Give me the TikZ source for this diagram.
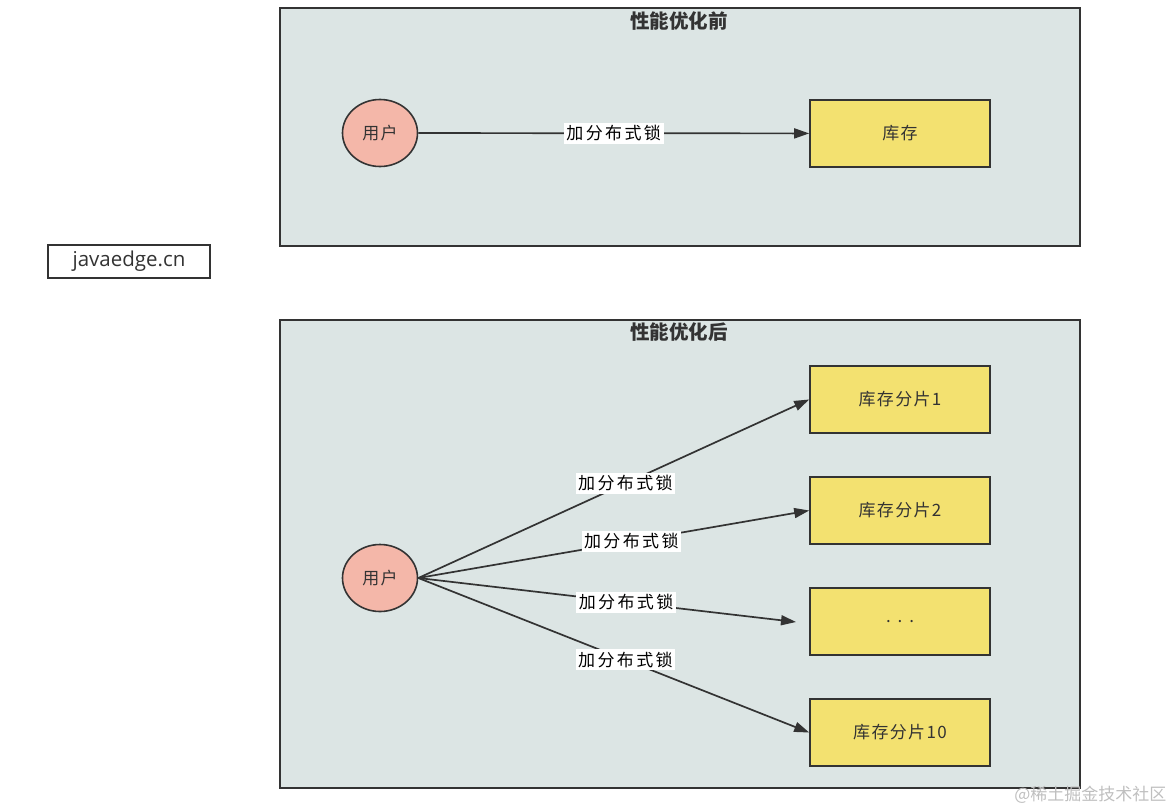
\documentclass[tikz,border=0pt]{standalone}
\usepackage{fontspec}
\setmainfont{Noto Sans CJK SC}
\newfontfamily\cjk{Noto Sans CJK SC}
\newfontfamily\latinsans{Open Sans}
\usetikzlibrary{arrows.meta,shapes.geometric}
\definecolor{panelfill}{HTML}{DCE5E4}
\definecolor{userfill}{HTML}{F4B7A9}
\definecolor{storefill}{HTML}{F3E170}
\definecolor{linec}{HTML}{333333}
\tikzset{
  panel/.style={draw=linec, line width=1.7pt, fill=panelfill, inner sep=0pt},
  panelTitle/.style={font=\fontsize{19.5}{22}\selectfont\bfseries, text=linec},
  user/.style={ellipse, draw=linec, line width=1.6pt, fill=userfill, minimum width=75pt, minimum height=67pt, inner sep=0pt, font=\fontsize{17}{20}\selectfont\addfontfeatures{LetterSpace=8}, text=linec},
  store/.style={draw=linec, line width=1.6pt, fill=storefill, minimum width=180pt, minimum height=67pt, inner sep=0pt, font=\fontsize{17}{20}\selectfont\addfontfeatures{LetterSpace=8}, text=linec},
  conn/.style={draw=linec, line width=1.7pt, -{Triangle[length=15pt,width=10pt]}},
  lock/.style={fill=white, inner sep=2.5pt, font=\fontsize{17}{20}\selectfont\addfontfeatures{LetterSpace=14}, text=black},
}
\begin{document}
\begin{tikzpicture}[x=1pt,y=-1pt]
\useasboundingbox (0,0) rectangle (1173,809);
% top panel
\node[panel, minimum width=800pt, minimum height=238pt, anchor=north west] (top) at (279,7) {};
\node[panelTitle] (toptitle) at (679,21) {性能优化前};
\node[user] (u1) at (380,133) {用户};
\node[store] (s0) at (900,133.5) {库存};
\draw[conn] (u1) -- node[lock] (l0) {加分布式锁} (s0);
% watermark box
\node[draw=linec, line width=1.7pt, fill=white, minimum width=162pt, minimum height=33pt, inner sep=0pt, font=\latinsans\fontsize{20.5}{24}\selectfont, text=linec] (jv) at (129,261.5) {javaedge.cn};
% bottom panel
\node[panel, minimum width=800pt, minimum height=468pt, anchor=north west] (bot) at (279,319) {};
\node[panelTitle] (bottitle) at (679,332) {性能优化后};
\node[user] (u2) at (380,578) {用户};
\node[store] (s1) at (900,399.5) {库存分片1};
\node[store] (s2) at (900,510.5) {库存分片2};
\node[store] (s3) at (900,621.5) {. . .};
\node[store] (s4) at (900,732.5) {库存分片10};
\coordinate (c3) at (796,622);
\draw[conn] (u2.east) -- node[lock, pos=0.53] (l1) {加分布式锁} (s1.west);
\draw[conn] (u2.east) -- node[lock, pos=0.545] (l2) {加分布式锁} (s2.west);
\draw[conn] (u2.east) -- node[lock, pos=0.55] (l3) {加分布式锁} (c3);
\draw[conn] (u2.east) -- node[lock, pos=0.53] (l4) {加分布式锁} (s4.west);
\node[font=\fontsize{17}{20}\selectfont, text=black!25, anchor=east] (wm) at (1170,795) {@稀土掘金技术社区};
\end{tikzpicture}
\end{document}
